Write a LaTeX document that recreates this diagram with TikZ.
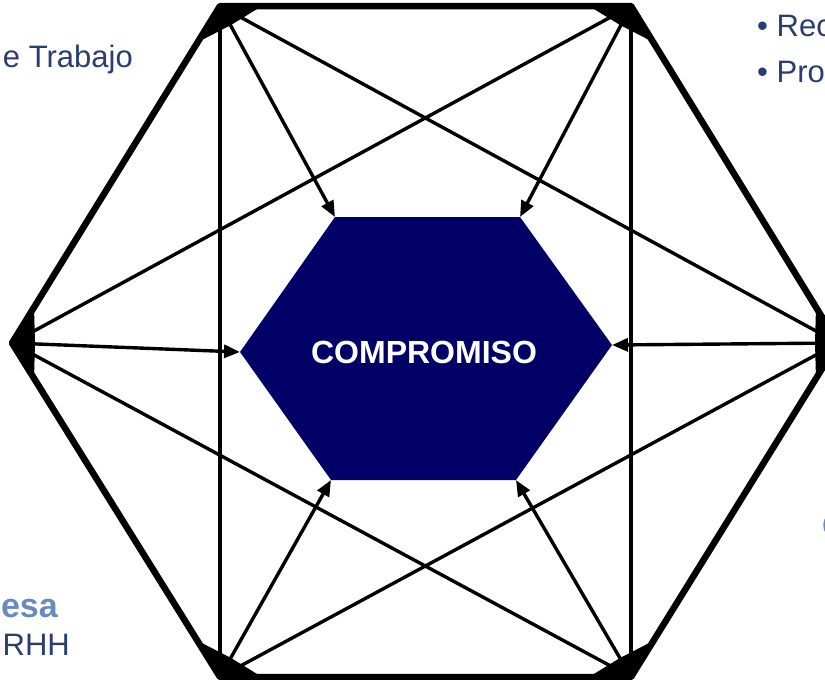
\documentclass[tikz,border=0pt]{standalone}
\usepackage{fontspec}
\setmainfont{Liberation Sans}
\usetikzlibrary{arrows.meta}
\definecolor{navyfill}{RGB}{0,0,102}
\definecolor{txtblue}{RGB}{41,61,112}
\definecolor{lightblue}{RGB}{106,137,191}
\begin{document}
\begin{tikzpicture}[x=1pt,y=-1pt,
  hexedge/.style={line width=6.5pt,line join=round},
  link/.style={line width=3.4pt},
  arr/.style={line width=3.4pt,-{Triangle[length=16pt,width=13pt]}},
  blob/.style={fill=black},
  lbl/.style={text=txtblue,font=\fontsize{31}{37}\selectfont,inner sep=0pt},
  hlbl/.style={text=lightblue,font=\bfseries\fontsize{34}{41}\selectfont,inner sep=0pt}]
\useasboundingbox (0,0) rectangle (825,680);
\clip (0,0) rectangle (825,680);
% outer vertices
\coordinate (TL) at (220,6);
\coordinate (TR) at (631,6);
\coordinate (R) at (838,343);
\coordinate (BR) at (631,677);
\coordinate (BL) at (220,677);
\coordinate (L) at (12,343);
% inner vertices
\coordinate (iTL) at (335,217);
\coordinate (iTR) at (520,217);
\coordinate (iR) at (612,345);
\coordinate (iBR) at (516,480);
\coordinate (iBL) at (331,480);
\coordinate (iL) at (240,352);
% inner hexagon
\fill[navyfill] (iTL) -- (iTR) -- (iR) -- (iBR) -- (iBL) -- (iL) -- cycle;
\node[text=white,font=\bfseries\fontsize{32}{38}\selectfont] (c) at (424,352) {COMPROMISO};
% outer hexagon
\draw[hexedge] (TL) -- (TR) -- (R) -- (BR) -- (BL) -- (L) -- cycle;
% verticals and diagonals
\draw[link] (TL) -- (BL);
\draw[link] (TR) -- (BR);
\draw[link] (TL) -- (R);
\draw[link] (TR) -- (L);
\draw[link] (L) -- (BR);
\draw[link] (R) -- (BL);
% arrows to the centre
\draw[arr] (TL) -- (iTL);
\draw[arr] (TR) -- (iTR);
\draw[arr] (L) -- (iL);
\draw[arr] (R) -- (iR);
\draw[arr] (BL) -- (iBL);
\draw[arr] (BR) -- (iBR);
% corner blobs
\fill[blob] (220,5) -- (262,6) -- (231,25) -- (198,42) -- cycle;
\fill[blob] (631,5) -- (589,6) -- (620,25) -- (653,42) -- cycle;
\fill[blob] (838,343) -- (816,307) -- (815,343) -- (816,379) -- cycle;
\fill[blob] (631,678) -- (653,641) -- (620,658) -- (589,677) -- cycle;
\fill[blob] (220,678) -- (262,677) -- (231,658) -- (198,641) -- cycle;
\fill[blob] (12,343) -- (34,307) -- (35,343) -- (34,379) -- cycle;
% partial labels
\node[lbl,anchor=base east] (t1) at (133,67) {e Trabajo};
\node[lbl,anchor=base west] (t2) at (757,36) {• Rec};
\node[lbl,anchor=base west] (t3) at (757,82) {• Pro};
\node[hlbl,anchor=base east] (t4) at (58,617) {esa};
\node[lbl,anchor=base east] (t5) at (70,655) {RHH};
\node[hlbl,anchor=base west] (t6) at (822,537) {C};
\end{tikzpicture}
\end{document}
